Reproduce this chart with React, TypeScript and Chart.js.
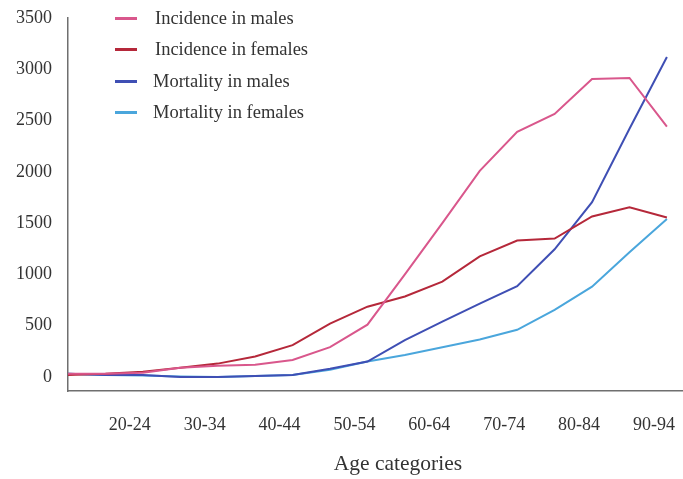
import React, { useEffect, useRef } from "react";
import { Chart, registerables } from "chart.js";

Chart.register(...registerables);

const ageGroups = [
  "10-14", "15-19", "20-24", "25-29", "30-34", "35-39", "40-44", "45-49", "50-54",
  "55-59", "60-64", "65-69", "70-74", "75-79", "80-84", "85-89", "90-94",
];
const xTickIndexes = [2, 4, 6, 8, 10, 12, 14, 16];
const yTickValues = [0, 500, 1000, 1500, 2000, 2500, 3000, 3500];

const incidenceMales = [30, 30, 40, 90, 110, 120, 165, 290, 510, 1000, 1500, 2010, 2390, 2565, 2905, 2915, 2440];
const incidenceFemales = [20, 30, 50, 90, 130, 200, 310, 520, 685, 785, 930, 1175, 1330, 1350, 1565, 1655, 1555];
const mortalityMales = [30, 20, 20, 0, 0, 10, 20, 80, 150, 360, 540, 715, 885, 1245, 1705, 2420, 3120];
const mortalityFemales = [30, 20, 15, 5, 0, 10, 20, 70, 150, 215, 290, 365, 460, 655, 880, 1215, 1540];

const seriesNames = ["Incidence in males", "Incidence in females", "Mortality in males", "Mortality in females"];
const seriesColors = ["#d9578c", "#b5283a", "#3f4fb4", "#4aa6dc"];
const seriesValues = [incidenceMales, incidenceFemales, mortalityMales, mortalityFemales];
const xAxisTitle = "Age categories";

const SERIF = "'Liberation Serif', 'Times New Roman', serif";

export default function App() {
  const canvasRef = useRef<HTMLCanvasElement | null>(null);

  useEffect(() => {
    if (!canvasRef.current) return;
    const chart = new Chart(canvasRef.current, {
      type: "line",
      data: {
        datasets: seriesValues.map((vals, si) => ({
          label: seriesNames[si],
          data: vals.map((v, i) => ({ x: i, y: v })),
          borderColor: seriesColors[si],
          backgroundColor: seriesColors[si],
          borderWidth: 2,
          pointRadius: 0,
          tension: 0,
          fill: false,
        })),
      },
      options: {
        animation: false,
        responsive: false,
        maintainAspectRatio: false,
        layout: { padding: { top: 18, right: 0, left: 0, bottom: 0 } },
        plugins: { legend: { display: false }, tooltip: { enabled: false } },
        scales: {
          x: {
            type: "linear",
            min: 0,
            max: 16.43,
            grid: { display: false, drawTicks: false },
            border: { display: true, color: "#6f6f6f", width: 1.5 },
            afterBuildTicks: (s: any) => {
              s.ticks = xTickIndexes.map((v) => ({ value: v }));
            },
            afterFit: (s: any) => {
              s.height = 88;
              s.paddingLeft = 0;
              s.paddingRight = 0;
            },
            ticks: {
              autoSkip: false,
              maxRotation: 0,
              padding: 23,
              labelOffset: -13,
              color: "#333",
              font: { family: SERIF, size: 18 },
              callback: (v: any) => ageGroups[Math.round(Number(v))] ?? "",
            },
          },
          y: {
            min: -137,
            max: 3500,
            grid: { display: false, drawTicks: false },
            border: { display: true, color: "#6f6f6f", width: 1.5 },
            afterBuildTicks: (s: any) => {
              s.ticks = yTickValues.map((v) => ({ value: v }));
            },
            afterFit: (s: any) => {
              s.width = 68;
              s.paddingTop = 0;
              s.paddingBottom = 0;
            },
            ticks: {
              padding: 16,
              color: "#333",
              font: { family: SERIF, size: 18 },
              callback: (v: any) => String(v),
            },
          },
        },
      },
    });
    return () => chart.destroy();
  }, []);

  return (
    <div style={{ position: "absolute", left: 0, top: 0, width: 683, height: 479, background: "#fff" }}>
      <canvas ref={canvasRef} width={683} height={479} style={{ width: 683, height: 479, display: "block" }} />
      <div style={{ position: "absolute", left: 110, top: 3, fontFamily: SERIF, fontSize: 18.5, color: "#333" }}>
        {seriesNames.map((name, i) => (
          <div key={name} style={{ display: "flex", alignItems: "center", height: 31.3, whiteSpace: "nowrap" }}>
            <div style={{ width: 22, height: 3, background: seriesColors[i], marginLeft: 5, marginRight: i < 2 ? 18 : 16 }} />
            <span>{name}</span>
          </div>
        ))}
      </div>
      <div
        style={{
          position: "absolute",
          left: 298,
          width: 200,
          top: 449,
          textAlign: "center",
          fontFamily: SERIF,
          fontSize: 21.5,
          color: "#333",
          lineHeight: "28px",
        }}
      >
        {xAxisTitle}
      </div>
    </div>
  );
}
